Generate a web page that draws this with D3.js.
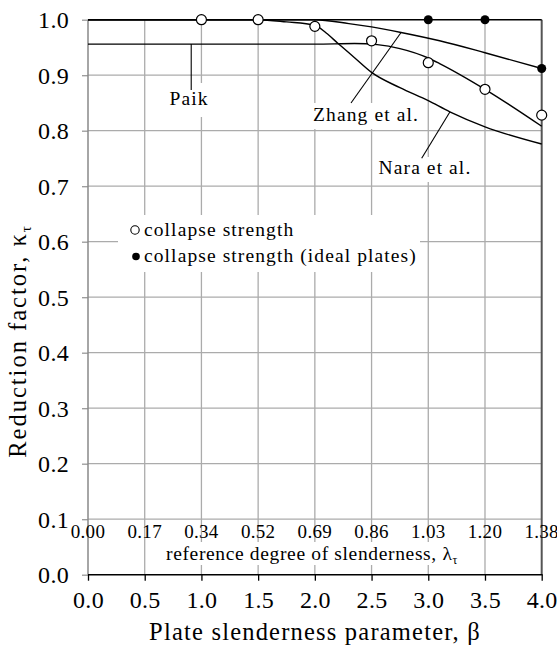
<!DOCTYPE html>
<html>
<head>
<meta charset="utf-8">
<script src="https://cdn.jsdelivr.net/npm/d3@7"></script>
<style>
  html, body { margin: 0; padding: 0; background: #fff; }
  svg { display: block; }
  text { font-family: "Liberation Serif", "Times New Roman", serif; fill: #000; }
</style>
</head>
<body>
<svg id="chart" width="557" height="648"></svg>
<script>
// ---- data -------------------------------------------------------------
const betaTicks = [0, 0.5, 1, 1.5, 2, 2.5, 3, 3.5, 4];
const betaTickLabels = ["0.0", "0.5", "1.0", "1.5", "2.0", "2.5", "3.0", "3.5", "4.0"];
const kappaTicks = [0, 0.1, 0.2, 0.3, 0.4, 0.5, 0.6, 0.7, 0.8, 0.9, 1.0];
const lambdaLabels = ["0.00", "0.17", "0.34", "0.52", "0.69", "0.86", "1.03", "1.20", "1.38"];

// design curves [beta, kappa]
const zhangCurve = [[0, 1.0], [2.0, 1.0], [2.3, 0.993], [2.5, 0.987], [2.76, 0.977],
                    [3.1, 0.962], [3.5, 0.9405], [4.0, 0.912]];
const paikCurve = [[0, 0.956], [2.0, 0.956], [2.35, 0.957], [2.55, 0.955], [2.75, 0.948],
                   [3.0, 0.931], [3.1, 0.921], [3.5, 0.8746], [4.0, 0.808]];
const naraCurve = [[0, 1.0], [1.5, 1.0], [1.75, 0.996], [2.0, 0.990], [2.1, 0.976],
                   [2.2, 0.958], [2.35, 0.9315], [2.5, 0.905], [2.75, 0.8775], [3.0, 0.854],
                   [3.19, 0.834], [3.5, 0.807], [4.0, 0.776]];

// test results
const collapse = [[1.0, 1.0], [1.5, 1.0], [2.0, 0.988], [2.5, 0.962], [3.0, 0.9225],
                  [3.5, 0.8746], [4.0, 0.828]];
const collapseIdeal = [[3.0, 1.0], [3.5, 1.0], [4.0, 0.912]];

// ---- layout -----------------------------------------------------------
const svg = d3.select("#chart");
const x = d3.scaleLinear().domain([0, 4]).range([88, 541.7]);
const y = d3.scaleLinear().domain([0, 1]).range([574.7, 19.7]);
const gridColor = "#ababab";
const annFont = "19.5px";
const annSpacing = "1.1px";
const mainFont = "24px";

// grid
const grid = svg.append("g");
grid.selectAll("line.v").data(betaTicks.slice(1, -1)).join("line")
  .attr("x1", d => x(d)).attr("x2", d => x(d))
  .attr("y1", y(0)).attr("y2", y(1))
  .attr("stroke", gridColor).attr("stroke-width", 1.3);
grid.selectAll("line.h").data(kappaTicks.slice(1, -1)).join("line")
  .attr("x1", x(0)).attr("x2", x(4))
  .attr("y1", d => y(d)).attr("y2", d => y(d))
  .attr("stroke", gridColor).attr("stroke-width", 1.3);

// white boxes behind labels that sit on the grid
const boxes = [
  [118, 215, 302, 57],   // legend
  [165, 83, 48, 34],     // Paik
  [312, 103, 110, 26],   // Zhang et al.
  [375, 157, 102, 25],   // Nara et al.
  [160, 542, 306, 23]    // secondary axis title
];
svg.append("g").selectAll("rect").data(boxes).join("rect")
  .attr("x", d => d[0]).attr("y", d => d[1]).attr("width", d => d[2]).attr("height", d => d[3])
  .attr("fill", "#fff");

// axes
const yAxis = d3.axisLeft(y).tickValues(kappaTicks).tickSize(6).tickPadding(13)
  .tickFormat(d3.format(".1f"));
const gy = svg.append("g").attr("transform", `translate(${x(0)},0)`).call(yAxis);
gy.select(".domain").remove();
gy.selectAll(".tick line").attr("stroke", "#999").attr("stroke-width", 1.3);
gy.selectAll(".tick text").attr("font-size", mainFont).attr("letter-spacing", "0.3px")
  .attr("dy", "0.34em");

const xAxis = d3.axisBottom(x).tickValues(betaTicks).tickSize(6).tickPadding(10)
  .tickFormat((d, i) => betaTickLabels[i]);
const gx = svg.append("g").attr("transform", `translate(0,${y(0)})`).call(xAxis);
gx.select(".domain").remove();
gx.selectAll(".tick line").attr("stroke", "#000").attr("stroke-width", 1.3);
gx.selectAll(".tick text").attr("font-size", mainFont).attr("letter-spacing", "0.3px")
  .attr("dy", "0.72em");

// frame
svg.append("line").attr("x1", x(0)).attr("x2", x(0)).attr("y1", y(0)).attr("y2", y(1))
  .attr("stroke", "#888").attr("stroke-width", 1.5);
svg.append("line").attr("x1", x(4)).attr("x2", x(4)).attr("y1", y(0)).attr("y2", y(1))
  .attr("stroke", "#555").attr("stroke-width", 2);
svg.append("line").attr("x1", x(0)).attr("x2", x(4)).attr("y1", y(1)).attr("y2", y(1))
  .attr("stroke", "#000").attr("stroke-width", 1.4);
svg.append("line").attr("x1", x(0)).attr("x2", x(4) + 1).attr("y1", y(0)).attr("y2", y(0))
  .attr("stroke", "#000").attr("stroke-width", 1.5);

// secondary scale: reference degree of slenderness
svg.append("g").selectAll("text").data(lambdaLabels).join("text")
  .attr("x", (d, i) => x(betaTicks[i])).attr("y", 537.5)
  .attr("text-anchor", "middle").attr("font-size", "19px").attr("letter-spacing", "0.3px")
  .text(d => d);
const lamTitle = svg.append("text").attr("x", 312).attr("y", 560)
  .attr("text-anchor", "middle").attr("font-size", annFont).attr("letter-spacing", "0.65px");
lamTitle.append("tspan").text("reference degree of slenderness, λ");
lamTitle.append("tspan").attr("font-size", "12px").attr("dy", "4").text("τ");

// curves
const line = d3.line().x(d => x(d[0])).y(d => y(d[1])).curve(d3.curveMonotoneX);
[zhangCurve, paikCurve, naraCurve].forEach(c => {
  svg.append("path").datum(c).attr("d", line)
    .attr("fill", "none").attr("stroke", "#000").attr("stroke-width", 1.4);
});

// markers
svg.append("g").selectAll("circle").data(collapse).join("circle")
  .attr("cx", d => x(d[0])).attr("cy", d => y(d[1])).attr("r", 5)
  .attr("fill", "#fff").attr("stroke", "#000").attr("stroke-width", 1.2);
svg.append("g").selectAll("circle").data(collapseIdeal).join("circle")
  .attr("cx", d => x(d[0])).attr("cy", d => y(d[1])).attr("r", 4.5)
  .attr("fill", "#000");

// curve labels with leader lines
const ann = svg.append("g");
function leader(x1, y1, x2, y2) {
  ann.append("line").attr("x1", x1).attr("y1", y1).attr("x2", x2).attr("y2", y2)
    .attr("stroke", "#000").attr("stroke-width", 1.1);
}
leader(x(0.91), y(0.956), x(0.91), 90);
ann.append("text").attr("x", 189).attr("y", 105).attr("text-anchor", "middle")
  .attr("font-size", annFont).attr("letter-spacing", annSpacing).text("Paik");
leader(351, 103, x(2.76), y(0.977));
ann.append("text").attr("x", 366).attr("y", 121).attr("text-anchor", "middle")
  .attr("font-size", annFont).attr("letter-spacing", annSpacing).text("Zhang et al.");
leader(421.7, 158.3, 450, 111.7);
ann.append("text").attr("x", 425).attr("y", 174).attr("text-anchor", "middle")
  .attr("font-size", annFont).attr("letter-spacing", annSpacing).text("Nara et al.");

// legend
const legend = svg.append("g");
legend.append("circle").attr("cx", 135).attr("cy", 230).attr("r", 4.2)
  .attr("fill", "#fff").attr("stroke", "#000").attr("stroke-width", 1.1);
legend.append("text").attr("x", 144).attr("y", 235.5).attr("font-size", annFont)
  .attr("letter-spacing", annSpacing).text("collapse strength");
legend.append("circle").attr("cx", 136).attr("cy", 256.5).attr("r", 3.8).attr("fill", "#000");
legend.append("text").attr("x", 144).attr("y", 262).attr("font-size", annFont)
  .attr("letter-spacing", annSpacing).text("collapse strength (ideal plates)");

// axis titles
svg.append("text").attr("x", 315).attr("y", 640).attr("text-anchor", "middle")
  .attr("font-size", "24.5px").attr("letter-spacing", "1.2px")
  .text("Plate slenderness parameter, β");
const yt = svg.append("text").attr("transform", "translate(26,341) rotate(-90)")
  .attr("text-anchor", "middle").attr("font-size", "24.5px").attr("letter-spacing", "2px");
yt.append("tspan").text("Reduction factor, κ");
yt.append("tspan").attr("font-size", "15px").attr("dy", "5").text("τ");
</script>
</body>
</html>
